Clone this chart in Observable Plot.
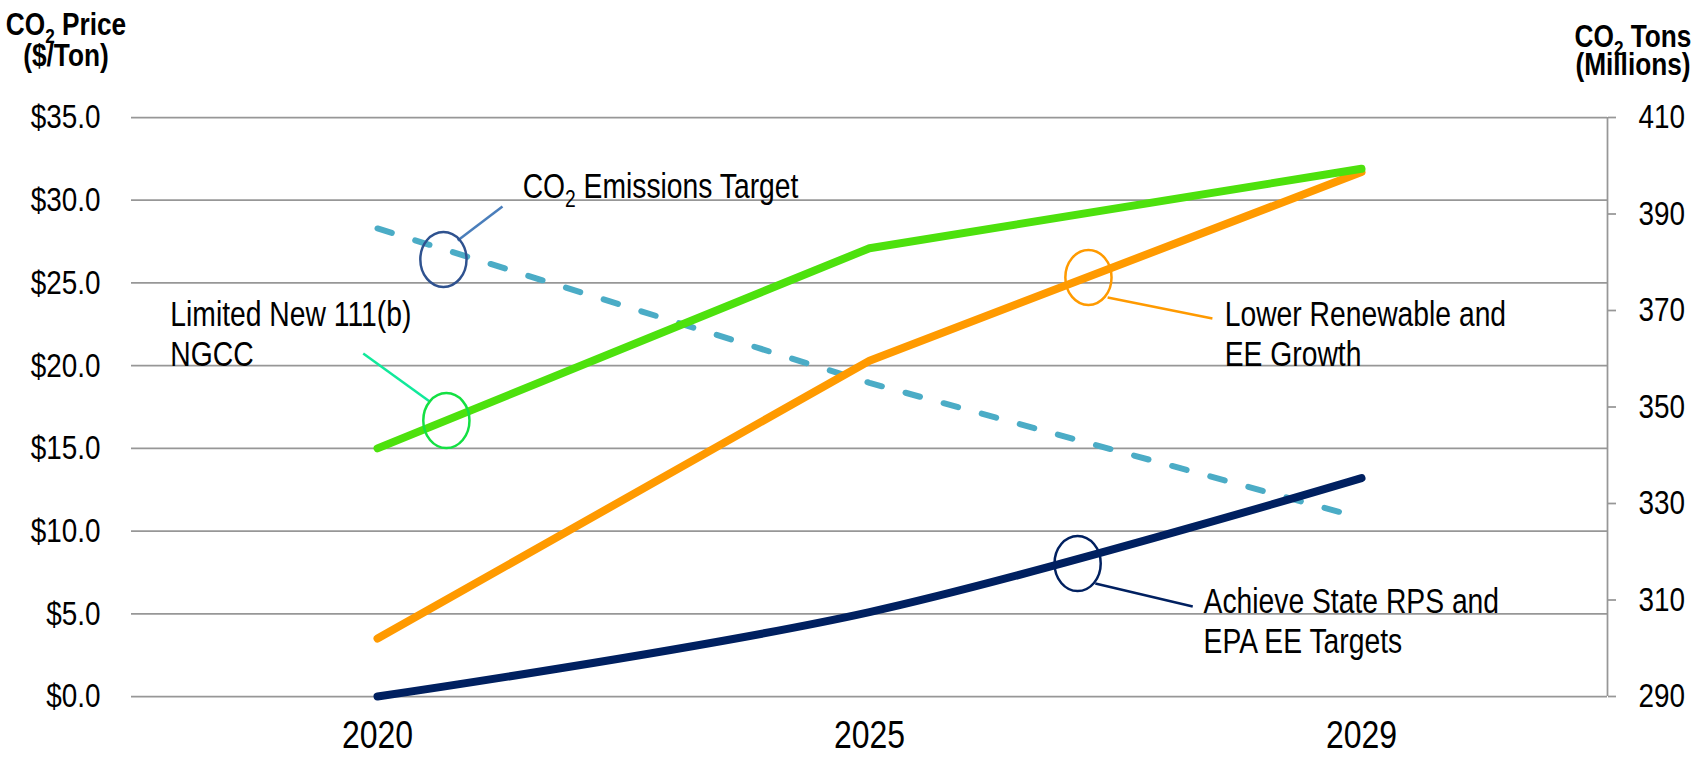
<!DOCTYPE html>
<html>
<head>
<meta charset="utf-8">
<script src="https://cdn.jsdelivr.net/npm/d3@7"></script>
<script src="https://cdn.jsdelivr.net/npm/@observablehq/plot@0.6"></script>
<style>
  html, body { margin: 0; padding: 0; background: #fff; }
  #chart { width: 1694px; height: 757px; }
</style>
</head>
<body>
<div id="chart"></div>
<script>
// ---------- data ----------
const years = ["2020", "2025", "2029"];
const limitedNew111b = [15.0, 27.1, 31.9];      // $/ton
const lowerRenewableEE = [3.5, 20.3, 31.7];     // $/ton
const achieveStateRPS = [0.0, 5.1, 13.2];       // $/ton
const emissionsTarget = [387, 355, 327];        // million tons (right axis)
const priceTicks = [0, 5, 10, 15, 20, 25, 30, 35];
const tonsTicks = [290, 310, 330, 350, 370, 390, 410];
const priceDomain = [0, 35];
const tonsDomain = [290, 410];

// ---------- annotation layout (in data coordinates) ----------
const annotationText = [
  {text: "CO2 Emissions Target", x: 0.295, y: 30.16},
  {text: "Limited New 111(b)\nNGCC", x: -0.421, y: 20.0},
  {text: "Lower Renewable and\nEE Growth", x: 1.722, y: 20.0},
  {text: "Achieve State RPS and\nEPA EE Targets", x: 1.679, y: 2.6}
];
const callouts = [
  {cx: 0.134, cy: 26.42, x1: 0.163, y1: 27.56, x2: 0.254, y2: 29.62, ring: "#2f528f", lead: "#4a7ebb"},
  {cx: 0.140, cy: 16.68, x1: 0.106, y1: 17.83, x2: -0.029, y2: 20.73, ring: "#14e043", lead: "#11e99b"},
  {cx: 1.445, cy: 25.33, x1: 1.484, y1: 24.12, x2: 1.697, y2: 22.85, ring: "#ff9a00", lead: "#ff9a00"},
  {cx: 1.423, cy: 8.04, x1: 1.459, y1: 6.83, x2: 1.657, y2: 5.44, ring: "#002060", lead: "#002060"}
];

const FONT = '"Liberation Sans Narrow", "Arial Narrow", "Liberation Sans", Arial, sans-serif';
const NARROW = 0.82; // horizontal condensing to mimic Arial Narrow
const ANNOT_PX = 34.5;
const toPrice = t => (t - tonsDomain[0]) * (priceDomain[1] - priceDomain[0]) / (tonsDomain[1] - tonsDomain[0]);
const toTons = p => tonsDomain[0] + p * (tonsDomain[1] - tonsDomain[0]) / (priceDomain[1] - priceDomain[0]);
const idx = years.map((_, i) => i);

const ellipse = {
  draw(ctx, size) {
    const ry = Math.sqrt(size / Math.PI), rx = ry * 0.84;
    const kx = rx * 0.5523, ky = ry * 0.5523;
    ctx.moveTo(rx, 0);
    ctx.bezierCurveTo(rx, ky, kx, ry, 0, ry);
    ctx.bezierCurveTo(-kx, ry, -rx, ky, -rx, 0);
    ctx.bezierCurveTo(-rx, -ky, -kx, -ry, 0, -ry);
    ctx.bezierCurveTo(kx, -ry, rx, -ky, rx, 0);
    ctx.closePath();
  }
};

const chart = Plot.plot({
  width: 1694,
  height: 757,
  marginLeft: 131,
  marginRight: 87,
  marginTop: 117,
  marginBottom: 61,
  style: {fontFamily: FONT, background: "#fff", color: "#000", overflow: "visible"},
  x: {domain: [-0.5, 2.5]},
  y: {domain: priceDomain},
  color: {type: "identity"},
  marks: [
    Plot.ruleY(priceTicks, {stroke: "#979797", strokeWidth: 1.75}),
    Plot.ruleX([2.5], {y1: priceDomain[0], y2: priceDomain[1], stroke: "#979797", strokeWidth: 1.75}),
    Plot.axisY({anchor: "left", ticks: priceTicks, tickFormat: d => "$" + d.toFixed(1), tickSize: 0, tickPadding: 31, fontSize: 34, label: null, fill: "#000"}),
    Plot.axisY({anchor: "right", ticks: tonsTicks.map(toPrice), tickFormat: d => String(Math.round(toTons(d))), tickSize: 8, tickPadding: 23, fontSize: 34, label: null, stroke: "#979797", strokeWidth: 1.75, fill: "#000"}),
    Plot.axisX({anchor: "bottom", ticks: idx, tickFormat: i => years[i], tickSize: 0, tickPadding: 24, fontSize: 39, label: null, fill: "#000"}),
    Plot.line(idx, {x: i => i, y: i => toPrice(emissionsTarget[i]), stroke: "#4bacc6", strokeWidth: 6, strokeDasharray: "15,24.5", strokeLinecap: "round"}),
    Plot.line(idx, {x: i => i, y: i => lowerRenewableEE[i], stroke: "#ff9a00", strokeWidth: 8, strokeLinecap: "round", strokeLinejoin: "round"}),
    Plot.line(idx, {x: i => i, y: i => limitedNew111b[i], stroke: "#4de10d", strokeWidth: 8, strokeLinecap: "round", strokeLinejoin: "round"}),
    Plot.line(idx, {x: i => i, y: i => achieveStateRPS[i], stroke: "#002060", strokeWidth: 8, strokeLinecap: "round", curve: "cardinal"}),
    Plot.link(callouts, {x1: "x1", y1: "y1", x2: "x2", y2: "y2", stroke: "lead", strokeWidth: 2.5}),
    Plot.dot(callouts, {x: "cx", y: "cy", r: 27.5, symbol: ellipse, stroke: "ring", fill: "none", strokeWidth: 2.5}),
    Plot.text(annotationText, {x: "x", y: "y", text: "text", textAnchor: "start", lineAnchor: "bottom", lineHeight: 1.16, fontSize: ANNOT_PX, fill: "#000"})
  ]
});

document.getElementById("chart").appendChild(chart);
const svg = d3.select(chart);

// subscript "2" in CO2
function subscriptCO2(el, px) {
  const s = el.textContent;
  const k = s.indexOf("CO2");
  if (k < 0) return;
  const sel = d3.select(el);
  sel.text(null);
  if (k > 0) sel.append("tspan").text(s.slice(0, k));
  sel.append("tspan").text("CO");
  sel.append("tspan").attr("font-size", px * 0.68).attr("dy", px * 0.26).text("2");
  sel.append("tspan").attr("dy", -px * 0.26).text(s.slice(k + 3));
}
svg.selectAll("text").each(function() {
  if (this.childElementCount === 0 && this.textContent.includes("CO2")) subscriptCO2(this, ANNOT_PX);
});

// axis titles
function title(xc, y, lines) {
  const t = svg.append("text")
    .attr("text-anchor", "middle")
    .attr("font-family", FONT)
    .attr("font-weight", "bold")
    .attr("font-size", 32)
    .attr("fill", "#000");
  lines.forEach((ln, j) => {
    const tl = t.append("tspan").attr("x", xc).attr("y", y[j]);
    if (ln.startsWith("CO2")) {
      tl.text("CO");
      t.append("tspan").attr("font-size", 21).attr("dy", 8).text("2");
      t.append("tspan").attr("dy", -8).text(ln.slice(3));
    } else {
      tl.text(ln);
    }
  });
}
title(66, [35, 66], ["CO2 Price", "($/Ton)"]);
title(1633, [47, 75], ["CO2 Tons", "(Millions)"]);

// condense all text horizontally (Arial Narrow look) around each text's anchor x
const narrowInstalled = (() => {
  const c = document.createElement("canvas").getContext("2d");
  c.font = '40px "Liberation Sans Narrow", monospace'; const a = c.measureText("Narrow text").width;
  c.font = '40px monospace'; const b = c.measureText("Narrow text").width;
  return a !== b;
})();
if (!narrowInstalled) {
  svg.selectAll("text").each(function() {
    let ax = parseFloat(this.getAttribute("x"));
    if (isNaN(ax)) {
      const ts = this.querySelector("tspan[x]");
      ax = ts ? parseFloat(ts.getAttribute("x")) || 0 : 0;
    }
    const prev = this.getAttribute("transform") || "";
    this.setAttribute("transform", `${prev} translate(${ax},0) scale(${NARROW},1) translate(${-ax},0)`.trim());
  });
}
</script>
</body>
</html>
